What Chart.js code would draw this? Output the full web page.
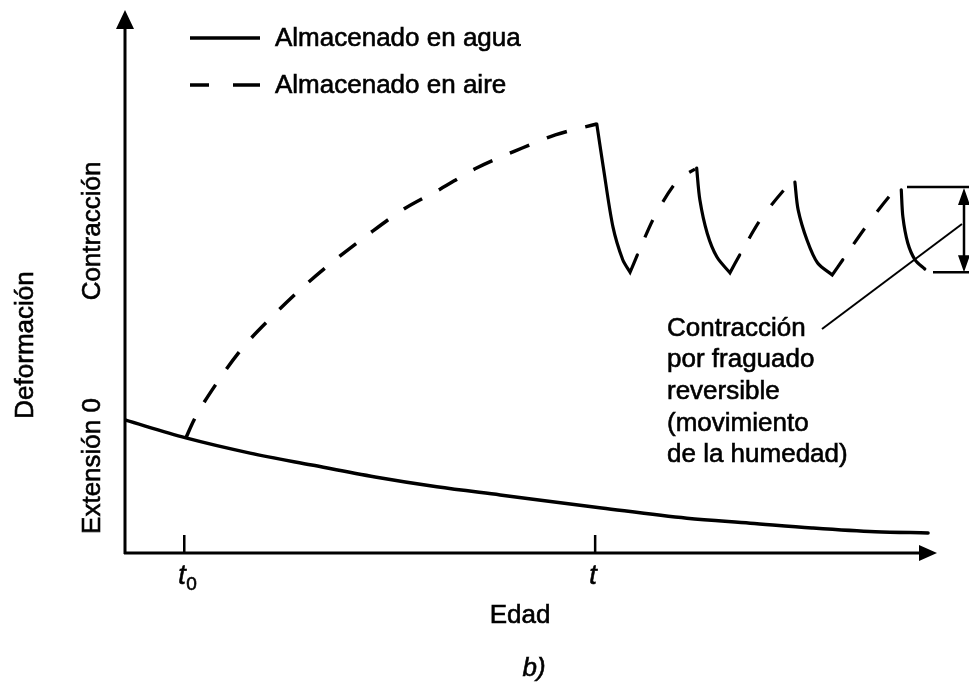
<!DOCTYPE html>
<html>
<head>
<meta charset="utf-8">
<title>Deformación - Edad</title>
<script src="https://cdn.jsdelivr.net/npm/chart.js@4.4.1/dist/chart.umd.min.js"></script>
<style>
  html, body { margin: 0; padding: 0; background: #fff; }
  canvas { display: block; background: #fff; }
</style>
</head>
<body>
<canvas id="chart" width="969" height="682"></canvas>
<script>
// values, x = edad (0-100), y = deformación (0-100)
const waterX = [0, 7.5, 15.4, 23.0, 30.8, 38.4, 46.2, 58.7, 69.2, 77.0, 84.6, 92.4, 98.9];
const waterY = [24.5, 21.2, 18.4, 16.2, 14.0, 12.2, 10.7, 8.3, 6.4, 5.5, 4.6, 3.9, 3.7];

const airX = [7.5, 8.5, 11.3, 14.5, 18.1, 21.8, 25.9, 29.9, 34.2, 38.8, 43.3, 48.0, 53.0, 58.1];
const airY = [21.2, 24.5, 31.3, 37.8, 43.5, 48.8, 54.0, 58.6, 63.2, 67.0, 70.9, 74.0, 77.0, 79.0];

// wetting after t (solid), cusp points repeated so the corner stays sharp
const wetX = [58.1, 58.9, 60.1, 61.3, 62.2, 62.2, 63.1, null,
              70.4, 70.8, 71.7, 72.9, 74.5, 74.5, 75.7, null,
              82.5, 82.9, 84.0, 85.3, 87.1, 87.1, 88.4, null,
              95.6, 95.8, 96.4, 97.3, 98.5];
const wetY = [79.0, 71.1, 60.0, 54.0, 51.7, 51.7, 54.9, null,
              70.9, 65.0, 58.9, 54.5, 51.6, 51.6, 54.9, null,
              68.3, 63.2, 57.6, 53.4, 51.2, 51.2, 54.0, null,
              66.9, 61.9, 57.1, 54.0, 52.3];

// drying between wettings (dashed)
const dryX = [63.1, 65.3, 68.1, 70.2, null, 75.7, 78.4, 81.7, 82.3, null, 88.4, 91.4, 94.6, 95.4];
const dryY = [54.9, 62.2, 68.7, 70.7, null, 54.9, 61.7, 67.8, 68.3, null, 54.0, 60.4, 66.5, 67.2];

const tickValues = [7.3, 57.9];
const tickLabels = [["t", "0"], ["t", ""]];
const bracketRange = [51.7, 67.4];

const legendLabels = ["Almacenado en agua", "Almacenado en aire"];
const noteLines = ["Contracción", "por fraguado", "reversible", "(movimiento", "de la humedad)"];

const FONT = '"Liberation Sans", Arial, sans-serif';

function toPoints(xs, ys) {
  return xs.map((x, i) => ({ x: x, y: ys[i] }));
}

// text drawn with a thin outline so it reads as heavy as the print
function inkText(ctx, txt, x, y) {
  ctx.fillText(txt, x, y);
  ctx.strokeText(txt, x, y);
}

const sketchPlugin = {
  id: "sketch",
  afterDraw(chart) {
    const ctx = chart.ctx;
    const xs = chart.scales.x;
    const ys = chart.scales.y;
    const left = xs.getPixelForValue(0);
    const right = xs.getPixelForValue(100);
    const bottom = ys.getPixelForValue(0);
    const top = ys.getPixelForValue(100);

    ctx.save();
    ctx.strokeStyle = "#000";
    ctx.fillStyle = "#000";
    ctx.lineCap = "butt";

    // axes with arrow heads
    ctx.lineWidth = 3;
    ctx.beginPath();
    ctx.moveTo(left, bottom + 1);
    ctx.lineTo(left, top + 15);
    ctx.moveTo(left - 1, bottom);
    ctx.lineTo(right - 15, bottom);
    ctx.stroke();

    ctx.beginPath();
    ctx.moveTo(left, top);
    ctx.lineTo(left - 9, top + 19);
    ctx.lineTo(left + 9, top + 19);
    ctx.closePath();
    ctx.moveTo(right, bottom);
    ctx.lineTo(right - 18, bottom - 8);
    ctx.lineTo(right - 18, bottom + 8);
    ctx.closePath();
    ctx.fill();

    // ticks t0 and t
    tickValues.forEach((v, i) => {
      const px = xs.getPixelForValue(v);
      ctx.lineWidth = 2.5;
      ctx.beginPath();
      ctx.moveTo(px, bottom - 18);
      ctx.lineTo(px, bottom);
      ctx.stroke();
      ctx.lineWidth = 0.6;
      ctx.textAlign = "left";
      ctx.textBaseline = "alphabetic";
      ctx.font = "italic 27px " + FONT;
      inkText(ctx, tickLabels[i][0], px - 6, bottom + 31);
      if (tickLabels[i][1]) {
        ctx.font = "19px " + FONT;
        inkText(ctx, tickLabels[i][1], px + 2, bottom + 37);
      }
    });

    ctx.lineWidth = 0.6;
    // axis titles
    ctx.font = "26px " + FONT;
    ctx.textAlign = "center";
    inkText(ctx, "Edad", 520, 623);
    ctx.font = "italic 26px " + FONT;
    inkText(ctx, "b)", 534, 676);

    const vText = (txt, x, y) => {
      ctx.save();
      ctx.translate(x, y);
      ctx.rotate(-Math.PI / 2);
      ctx.textAlign = "center";
      inkText(ctx, txt, 0, 0);
      ctx.restore();
    };
    ctx.font = "26px " + FONT;
    vText("Deformación", 33, 345);
    vText("Contracción", 100, 231);
    vText("Extensión 0", 100, 466);

    // legend
    ctx.textAlign = "left";
    inkText(ctx, legendLabels[0], 275, 46);
    inkText(ctx, legendLabels[1], 275, 93);
    ctx.lineWidth = 3.5;
    ctx.beginPath();
    ctx.moveTo(190, 38);
    ctx.lineTo(260, 38);
    ctx.stroke();
    ctx.setLineDash([19, 24, 27, 100]);
    ctx.beginPath();
    ctx.moveTo(190, 85);
    ctx.lineTo(260, 85);
    ctx.stroke();
    ctx.setLineDash([]);

    // note
    ctx.lineWidth = 0.6;
    noteLines.forEach((line, i) => {
      inkText(ctx, line, 667, [336, 367, 399, 431, 462][i]);
    });

    // bracket for the reversible amplitude
    const bTop = ys.getPixelForValue(bracketRange[1]);
    const bBot = ys.getPixelForValue(bracketRange[0]);
    const bx = 964;
    ctx.lineWidth = 2.5;
    ctx.beginPath();
    ctx.moveTo(907, bTop);
    ctx.lineTo(969, bTop);
    ctx.moveTo(933, bBot);
    ctx.lineTo(969, bBot);
    ctx.moveTo(bx, bTop + 12);
    ctx.lineTo(bx, bBot - 12);
    ctx.stroke();
    ctx.beginPath();
    ctx.moveTo(bx, bTop + 1);
    ctx.lineTo(bx - 6, bTop + 18);
    ctx.lineTo(bx + 6, bTop + 18);
    ctx.closePath();
    ctx.moveTo(bx, bBot);
    ctx.lineTo(bx - 6, bBot - 17);
    ctx.lineTo(bx + 6, bBot - 17);
    ctx.closePath();
    ctx.fill();

    // leader line to the note
    ctx.lineWidth = 2;
    ctx.beginPath();
    ctx.moveTo(822, 329);
    ctx.lineTo(962, 224);
    ctx.stroke();

    ctx.restore();
  }
};

new Chart(document.getElementById("chart"), {
  type: "scatter",
  data: {
    datasets: [
      {
        label: legendLabels[0],
        data: toPoints(waterX, waterY),
        showLine: true,
        borderColor: "#000",
        borderWidth: 3.5,
        borderCapStyle: "round",
        cubicInterpolationMode: "monotone",
        pointRadius: 0
      },
      {
        label: legendLabels[1],
        data: toPoints(airX, airY),
        showLine: true,
        borderColor: "#000",
        borderWidth: 3.5,
        borderDash: [21, 19],
        cubicInterpolationMode: "monotone",
        pointRadius: 0
      },
      {
        label: "agua (ciclos)",
        data: toPoints(wetX, wetY),
        showLine: true,
        borderColor: "#000",
        borderWidth: 3.2,
        borderCapStyle: "round",
        tension: 0.3,
        pointRadius: 0
      },
      {
        label: "aire (ciclos)",
        data: toPoints(dryX, dryY),
        showLine: true,
        borderColor: "#000",
        borderWidth: 3.2,
        borderDash: [19, 21],
        borderDashOffset: 21,
        tension: 0.3,
        pointRadius: 0
      }
    ]
  },
  options: {
    responsive: false,
    animation: false,
    layout: { padding: { left: 125, right: 32, top: 10, bottom: 129 } },
    scales: {
      x: { type: "linear", min: 0, max: 100, display: false },
      y: { type: "linear", min: 0, max: 100, display: false }
    },
    plugins: {
      legend: { display: false },
      tooltip: { enabled: false }
    }
  },
  plugins: [sketchPlugin]
});
</script>
</body>
</html>
